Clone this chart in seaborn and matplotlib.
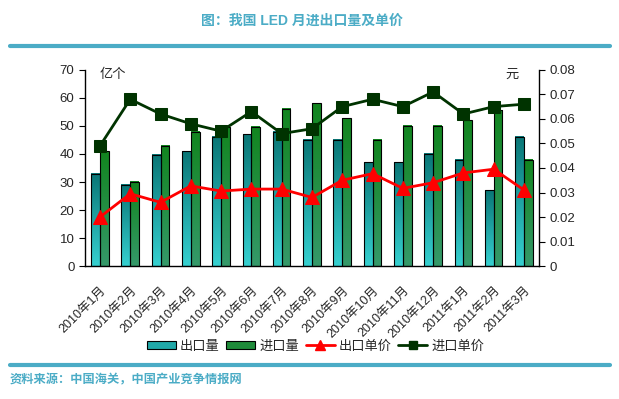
import numpy as np
import pandas as pd
import matplotlib
matplotlib.use("Agg")
import matplotlib.pyplot as plt
import matplotlib.transforms as mtransforms
import seaborn as sns
from matplotlib.colors import LinearSegmentedColormap
from matplotlib.patches import Patch
from matplotlib.lines import Line2D

months = ["2010年1月", "2010年2月", "2010年3月", "2010年4月", "2010年5月", "2010年6月",
          "2010年7月", "2010年8月", "2010年9月", "2010年10月", "2010年11月", "2010年12月",
          "2011年1月", "2011年2月", "2011年3月"]
export_qty = [33, 29, 39.7, 41, 46, 47, 48, 45, 45, 37, 37, 40, 38, 27, 46]
import_qty = [41, 30, 43, 47.8, 49.7, 49.6, 56, 58, 52.7, 45, 50, 50, 52, 55.5, 38]
export_price = [0.020, 0.0295, 0.026, 0.0327, 0.0306, 0.0314, 0.0314, 0.028, 0.035,
                0.0377, 0.0317, 0.034, 0.038, 0.0395, 0.031]
import_price = [0.049, 0.068, 0.062, 0.058, 0.055, 0.063, 0.054, 0.056, 0.065,
                0.068, 0.065, 0.071, 0.062, 0.065, 0.066]
series_names = ["出口量", "进口量", "出口单价", "进口单价"]

sns.set_theme(style="white")
plt.rcParams['font.family'] = ['Liberation Sans', 'Noto Sans CJK SC']
plt.rcParams['axes.unicode_minus'] = False

TEAL = "#4BACC6"
fig = plt.figure(figsize=(6.19, 3.99), dpi=100)
ax = fig.add_axes([0.137, 0.333, 0.734, 0.492])

df = pd.DataFrame({
    "month": months * 2,
    "value": export_qty + import_qty,
    "series": [series_names[0]] * len(months) + [series_names[1]] * len(months),
})
sns.barplot(data=df, x="month", y="value", hue="series", order=months,
            hue_order=series_names[:2], palette=["#1E9E9E", "#1F8B3A"],
            width=0.58, ax=ax, legend=False, edgecolor="black", linewidth=0.8,
            saturation=1)

grads = {0: ("#0A7676", "#36D0D0"), 1: ("#12851F", "#35996A")}
n = len(months)
for i, p in enumerate(ax.patches):
    top, bot = grads[i // n]
    cmap = LinearSegmentedColormap.from_list("g", [bot, top])
    x0, y0, w, h = p.get_x(), p.get_y(), p.get_width(), p.get_height()
    img = np.linspace(0, 1, 128).reshape(-1, 1)
    ax.imshow(img, cmap=cmap, extent=[x0, x0 + w, y0, y0 + h], origin="lower",
              aspect="auto", zorder=1.5)
    p.set_facecolor("none")
    p.set_zorder(2)

ax.set_xlim(-0.5, n - 0.5)
ax.set_ylim(0, 70)
ax.set_yticks(range(0, 71, 10))
ax.set_xlabel("")
ax.set_ylabel("")
ax.set_xticks(range(n))
ax.set_xticklabels(months, rotation=45, ha="right", rotation_mode="anchor", fontsize=9)
offset = mtransforms.ScaledTranslation(-6 / 100, 0, fig.dpi_scale_trans)
for lbl in ax.get_xticklabels():
    lbl.set_transform(lbl.get_transform() + offset)
ax.set_xticks(np.arange(-0.5, n, 1), minor=True)
ax.tick_params(axis="x", which="major", length=0, pad=13)
ax.tick_params(axis="x", which="minor", direction="in", length=4, width=0.8, color="black")
ax.tick_params(axis="y", which="major", direction="out", length=4, width=0.8,
               color="black", labelsize=9.5, left=True)
for s in ["left", "bottom"]:
    ax.spines[s].set_color("black")
    ax.spines[s].set_linewidth(1)
ax.spines["top"].set_visible(False)
ax.spines["right"].set_visible(False)

ax2 = ax.twinx()
pos = np.arange(n)
sns.lineplot(x=pos, y=export_price, ax=ax2, color="#FF0000", marker="^",
             markersize=10, markeredgecolor="#FF0000", linewidth=2)
sns.lineplot(x=pos, y=import_price, ax=ax2, color="#003300", marker="s",
             markersize=8, markeredgecolor="#003300", linewidth=2)
ax2.set_ylim(0, 0.08)
ax2.set_yticks(np.arange(0, 0.081, 0.01))
ax2.set_yticklabels(["0"] + [f"{v:.2f}" for v in np.arange(0.01, 0.081, 0.01)])
ax2.tick_params(axis="y", direction="out", length=4, width=0.8, color="black",
                labelsize=9.5, right=True)
ax2.set_xlim(-0.5, n - 0.5)
ax2.spines["right"].set_color("black")
ax2.spines["right"].set_linewidth(1)
ax2.spines["top"].set_visible(False)
ax2.spines["left"].set_visible(False)
ax2.spines["bottom"].set_visible(False)
ax2.grid(False)
ax.grid(False)

ax.text(0.033, 0.975, "亿个", transform=ax.transAxes, fontsize=9.5, va="center", ha="left")
ax2.text(0.925, 0.975, "元", transform=ax.transAxes, fontsize=9.5, va="center", ha="left")

handles = [
    Patch(facecolor="#20A8A8", edgecolor="black", linewidth=0.8),
    Patch(facecolor="#1F8B3A", edgecolor="black", linewidth=0.8),
    Line2D([0], [0], color="#FF0000", marker="^", markersize=7, linewidth=2),
    Line2D([0], [0], color="#003300", marker="s", markersize=6, linewidth=2),
]
fig.legend(handles, series_names, loc="center", bbox_to_anchor=(0.51, 0.131), ncol=4,
           frameon=False, fontsize=9.5, handlelength=2.2, handleheight=0.6,
           handletextpad=0.3, columnspacing=0.5)

fig.text(0.488, 0.948, "图：我国 LED 月进出口量及单价", ha="center", va="center",
         fontsize=10, fontweight="bold", color=TEAL)
fig.add_artist(Line2D([0.016, 0.985], [0.884, 0.884], color=TEAL, linewidth=3,
                      transform=fig.transFigure))
fig.add_artist(Line2D([0.016, 0.985], [0.086, 0.086], color=TEAL, linewidth=3,
                      transform=fig.transFigure))
fig.text(0.016, 0.048, "资料来源：中国海关，中国产业竞争情报网", ha="left", va="center",
         fontsize=8.8, fontweight="bold", color=TEAL)

fig.savefig("out.png", dpi=100)
